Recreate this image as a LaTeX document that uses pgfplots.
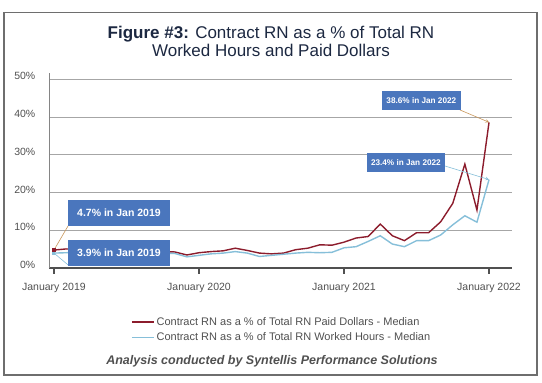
\documentclass[border=0pt]{standalone}
\usepackage{fontspec}
\setmainfont{Liberation Sans}
\usepackage{pgfplots}
\usepackage{pgfplotstable}
\pgfplotsset{compat=1.18}
\definecolor{titlec}{HTML}{1C2841}
\definecolor{redl}{HTML}{8C1C2C}
\definecolor{bluel}{HTML}{86BFD9}
\definecolor{boxc}{HTML}{4A76BD}
\definecolor{gridc}{HTML}{A6A6A6}
\definecolor{textc}{HTML}{505050}
\definecolor{framec}{HTML}{6E6E6E}
\definecolor{ptrred}{HTML}{C8965A}

\pgfplotstableread{
m paid hours
0 4.7 3.9
1 5.0 4.0
2 4.9 4.1
3 4.8 4.0
4 4.6 3.9
5 4.5 3.8
6 4.4 3.8
7 4.4 3.7
8 4.3 3.8
9 4.3 3.9
10 4.2 3.8
11 3.4 2.9
12 4.0 3.3
13 4.3 3.7
14 4.5 3.9
15 5.2 4.3
16 4.6 3.9
17 3.9 3.0
18 3.7 3.3
19 3.9 3.6
20 4.8 3.9
21 5.2 4.1
22 6.1 4.0
23 6.0 4.1
24 6.8 5.3
25 7.9 5.6
26 8.3 7.0
27 11.6 8.5
28 8.5 6.3
29 7.2 5.6
30 9.3 7.2
31 9.3 7.2
32 12.2 8.7
33 17.1 11.4
34 27.5 13.8
35 15.3 12.1
36 38.6 23.4
}\datatable

\begin{document}
\begin{tikzpicture}
\useasboundingbox (0pt,0pt) rectangle (542pt,383pt);
\draw[framec, line width=1.1pt] (4pt,8pt) rectangle (537pt,370.5pt);
\node[anchor=base, text=titlec, font=\fontsize{17}{20}\selectfont, inner sep=0pt] at (271pt,344.7pt) {\textbf{Figure \#3:} Contract RN as a \% of Total RN};
\node[anchor=base, text=titlec, font=\fontsize{17}{20}\selectfont, inner sep=0pt] at (271pt,326.3pt) {Worked Hours and Paid Dollars};
\node[anchor=base, text=textc, font=\fontsize{12.5}{14}\selectfont\bfseries\itshape, inner sep=0pt] at (272pt,18.5pt) {Analysis conducted by Syntellis Performance Solutions};

\begin{axis}[
  at={(49pt,115.2pt)}, anchor=south west,
  scale only axis, width=463pt, height=195.1pt,
  xmin=-0.41, xmax=37.9, ymin=0, ymax=51.75,
  axis x line*=bottom, axis y line*=left,
  x axis line style={draw=textc, line width=1.6pt, -},
  y axis line style={draw=gridc!80!black, line width=0.8pt, -},
  xtick={0,12,24,36},
  xticklabels={January 2019,January 2020,January 2021,January 2022},
  ytick={0,10,20,30,40,50},
  yticklabels={0\%,10\%,20\%,30\%,40\%,50\%},
  tick align=outside, major tick length=6pt,
  xtick style={draw=textc, line width=1.6pt},
  ytick style={draw=none},
  ymajorgrids, grid style={gridc, line width=0.7pt},
  tick label style={font=\fontsize{10.5}{12}\selectfont, text=textc},
  xticklabel style={anchor=north, inner sep=0pt, yshift=-9pt},
  yticklabel style={anchor=east, inner sep=0pt, xshift=-7.5pt, yshift=3pt},
  clip=false,
  legend style={at={(rel axis cs:0.1706,-0.2317)}, anchor=north west, draw=none, fill=none,
    font=\fontsize{11}{13}\selectfont, text=textc, row sep=2pt, cells={anchor=west}},
  legend cell align=left,
  legend image code/.code={\draw[#1] (0pt,0pt) -- (22pt,0pt);},
]
\addplot[redl, line width=1.4pt, mark=square*, mark size=1pt, mark indices={1}] table[x=m, y=paid] {\datatable};
\addlegendentry{Contract RN as a \% of Total RN Paid Dollars - Median}
\addplot[bluel, line width=1.4pt, mark=square*, mark size=0.8pt, mark indices={1}] table[x=m, y=hours] {\datatable};
\addlegendentry{Contract RN as a \% of Total RN Worked Hours - Median}

\draw[ptrred, line width=0.6pt] (axis cs:1.18,11.17) -- (axis cs:0,4.7);
\draw[bluel, line width=0.6pt] (axis cs:1.18,0.74) -- (axis cs:0,3.9);
\draw[ptrred, line width=0.6pt, -stealth] (axis cs:33.6,41.86) -- (axis cs:36,38.6);
\draw[bluel, line width=0.6pt, -stealth] (axis cs:32.36,27.0) -- (axis cs:36,23.4);

\node[fill=boxc, text=white, font=\fontsize{10.5}{12}\selectfont\bfseries, minimum width=102pt, minimum height=26pt, inner sep=0pt] at (axis cs:5.38,14.54) {4.7\% in Jan 2019};
\node[fill=boxc, text=white, font=\fontsize{10.5}{12}\selectfont\bfseries, minimum width=102pt, minimum height=26pt, inner sep=0pt] at (axis cs:5.38,3.93) {3.9\% in Jan 2019};
\node[fill=boxc, text=white, font=\fontsize{8.2}{10}\selectfont\bfseries, minimum width=79pt, minimum height=19pt, inner sep=0pt] at (axis cs:30.40,44.38) {38.6\% in Jan 2022};
\node[fill=boxc, text=white, font=\fontsize{8.2}{10}\selectfont\bfseries, minimum width=78pt, minimum height=19pt, inner sep=0pt] at (axis cs:29.12,28.01) {23.4\% in Jan 2022};
\end{axis}
\end{tikzpicture}
\end{document}
